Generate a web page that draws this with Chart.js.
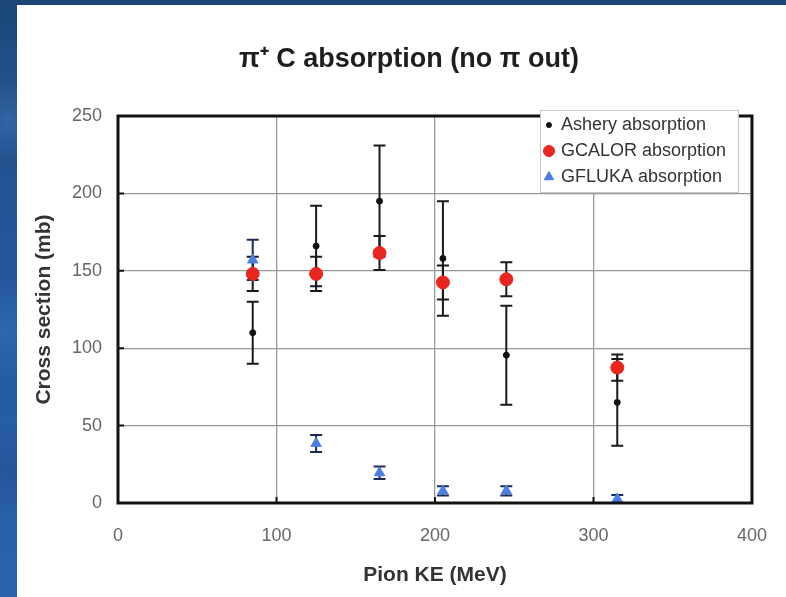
<!DOCTYPE html>
<html>
<head>
<meta charset="utf-8">
<script src="https://cdn.jsdelivr.net/npm/chart.js@4.4.0/dist/chart.umd.min.js"></script>
<style>
  html, body { margin: 0; padding: 0; }
  body {
    width: 786px; height: 597px; overflow: hidden; position: relative;
    background:
      radial-gradient(circle at 8px 120px, rgba(80,140,210,0.35), rgba(0,0,0,0) 40px),
      radial-gradient(circle at 6px 330px, rgba(70,130,200,0.3), rgba(0,0,0,0) 50px),
      radial-gradient(circle at 10px 470px, rgba(30,70,130,0.35), rgba(0,0,0,0) 45px),
      linear-gradient(180deg, #1b4675 0px, #1f4f86 60px, #2459a0 300px, #2a62ad 597px);
  }
  #panel { position: absolute; left: 17px; top: 5px; right: 0; bottom: 0; background: #fff; }
  #chart { position: absolute; left: 0; top: 0; }
</style>
</head>
<body>
<div id="panel"></div>
<canvas id="chart" width="786" height="597"></canvas>
<script>
const energies = [85, 125, 165, 205, 245, 315]

const asheryValues = [110, 166, 195, 158, 95.5, 65]
const asheryErrors = [20, 26, 36, 37, 32, 28]

const gcalorValues = [148, 148, 161.5, 142.5, 144.5, 87.5]
const gcalorErrors = [11, 11, 11, 11, 11, 8.5]

const gflukaValues = [157, 38.5, 19.5, 7.8, 7.8, 2.6]
const gflukaErrors = [13, 5.5, 4, 3, 3, 2.5]

const seriesNames = ['Ashery absorption', 'GCALOR absorption', 'GFLUKA absorption']

const font = 'Liberation Sans, Arial, sans-serif'

function points(values) {
  return energies.map((e, i) => ({ x: e, y: values[i] }))
}

// vertical error bars with caps, from each dataset's `errors` list
const errorBars = {
  id: 'errorBars',
  beforeDatasetsDraw(chart) {
    const { ctx, scales: { x, y } } = chart
    chart.data.datasets.forEach(ds => {
      if (!ds.errors) return
      ctx.save()
      ctx.strokeStyle = ds.errorColor
      ctx.lineWidth = 2
      ds.data.forEach((pt, i) => {
        const px = x.getPixelForValue(pt.x)
        const hi = y.getPixelForValue(pt.y + ds.errors[i])
        const lo = y.getPixelForValue(Math.max(pt.y - ds.errors[i], 0))
        ctx.beginPath()
        ctx.moveTo(px, hi); ctx.lineTo(px, lo)
        ctx.moveTo(px - 6, hi); ctx.lineTo(px + 6, hi)
        ctx.moveTo(px - 6, lo); ctx.lineTo(px + 6, lo)
        ctx.stroke()
      })
      ctx.restore()
    })
  }
}

// heavy frame around the plot with short inward tick marks
const plotFrame = {
  id: 'plotFrame',
  afterDatasetsDraw(chart) {
    const { ctx, chartArea: a, scales: { x, y } } = chart
    ctx.save()
    ctx.strokeStyle = '#111'
    ctx.lineWidth = 2
    ctx.beginPath()
    y.ticks.forEach(t => {
      const py = y.getPixelForValue(t.value)
      ctx.moveTo(a.left, py); ctx.lineTo(a.left + 6, py)
    })
    x.ticks.forEach(t => {
      const px = x.getPixelForValue(t.value)
      ctx.moveTo(px, a.bottom); ctx.lineTo(px, a.bottom - 6)
    })
    ctx.stroke()
    ctx.lineWidth = 3
    ctx.strokeRect(a.left, a.top, a.right - a.left, a.bottom - a.top)
    ctx.restore()
  }
}

// boxed legend sitting in the top right corner of the plot
const boxLegend = {
  id: 'boxLegend',
  afterDraw(chart, args, opts) {
    const { ctx, chartArea: a } = chart
    const right = a.right - opts.inset
    const left = right - opts.width
    const top = a.top - opts.raise
    ctx.save()
    ctx.fillStyle = '#fff'
    ctx.strokeStyle = '#c8c8c8'
    ctx.lineWidth = 1
    ctx.fillRect(left, top, opts.width, opts.height)
    ctx.strokeRect(left + 0.5, top + 0.5, opts.width, opts.height)
    ctx.font = opts.fontSize + 'px ' + font
    ctx.textBaseline = 'middle'
    chart.data.datasets.forEach((ds, i) => {
      const cy = top + opts.firstRow + i * opts.rowGap
      ctx.fillStyle = ds.backgroundColor
      ctx.strokeStyle = ds.borderColor
      Chart.helpers.drawPoint(ctx, {
        pointStyle: ds.pointStyle,
        radius: opts.markerSizes[i],
        borderWidth: 1,
        rotation: 0
      }, left + opts.markerX, cy)
      ctx.fillStyle = '#333'
      ctx.fillText(ds.label, left + opts.textX, cy)
    })
    ctx.restore()
  }
}

new Chart(document.getElementById('chart'), {
  type: 'scatter',
  data: {
    datasets: [
      {
        label: seriesNames[0],
        data: points(asheryValues),
        errors: asheryErrors,
        errorColor: '#1a1a1a',
        pointStyle: 'circle',
        pointRadius: 3,
        backgroundColor: '#111',
        borderColor: '#111',
        borderWidth: 1
      },
      {
        label: seriesNames[1],
        data: points(gcalorValues),
        errors: gcalorErrors,
        errorColor: '#1a1a1a',
        pointStyle: 'circle',
        pointRadius: 6.5,
        backgroundColor: '#e8261e',
        borderColor: '#e8261e',
        borderWidth: 1
      },
      {
        label: seriesNames[2],
        data: points(gflukaValues),
        errors: gflukaErrors,
        errorColor: '#1c2a55',
        pointStyle: 'triangle',
        pointRadius: 6,
        backgroundColor: '#4a7ee0',
        borderColor: '#4a7ee0',
        borderWidth: 1
      }
    ]
  },
  options: {
    responsive: false,
    animation: false,
    events: [],
    // uneven side padding keeps the title centred a little right of the page middle
    layout: { padding: { left: 63, right: 31, top: 0, bottom: 0 } },
    plugins: {
      legend: { display: false },
      tooltip: { enabled: false },
      title: {
        display: true,
        text: 'π⁺ C absorption (no π out)',
        color: '#1e1e1e',
        font: { family: font, size: 27, weight: 'bold' },
        padding: { top: 43, bottom: 40.6 }
      },
      boxLegend: {
        inset: 14, raise: 6, width: 198, height: 82,
        firstRow: 15, rowGap: 26, markerX: 9, textX: 21,
        fontSize: 18, markerSizes: [2.5, 5.5, 5.5]
      }
    },
    scales: {
      x: {
        type: 'linear',
        min: 0, max: 400,
        afterFit: s => { s.height = 94 },
        ticks: { stepSize: 100, color: '#666', padding: 19, font: { family: font, size: 18 } },
        grid: { color: '#999', lineWidth: 1.3, drawTicks: true, tickLength: 3, tickColor: 'rgba(0,0,0,0)' },
        border: { display: false },
        title: {
          display: true, text: 'Pion KE (MeV)', color: '#333',
          font: { family: font, size: 21, weight: 'bold' },
          padding: { top: 0, bottom: 9 }
        }
      },
      y: {
        min: 0, max: 250,
        afterFit: s => { s.width = 55 },
        ticks: { stepSize: 50, color: '#666', padding: 16, font: { family: font, size: 18 } },
        grid: { color: '#999', lineWidth: 1.3, drawTicks: false },
        border: { display: false },
        title: {
          display: true, text: 'Cross section (mb)', color: '#333',
          font: { family: font, size: 21, weight: 'bold' },
          padding: { top: -31.6, bottom: 0 }
        }
      }
    }
  },
  plugins: [errorBars, plotFrame, boxLegend]
})
</script>
</body>
</html>
